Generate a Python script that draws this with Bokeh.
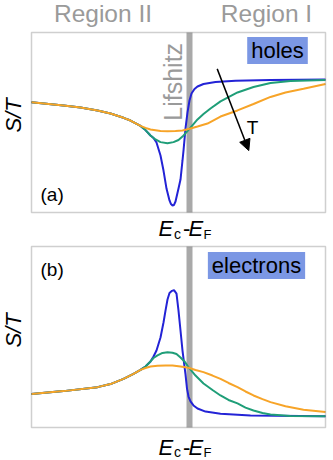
import math
from bokeh.plotting import figure
from bokeh.models import Range1d, Label, Arrow, NormalHead, BoxAnnotation
from bokeh.layouts import column
from bokeh.embed import file_html
from bokeh.resources import INLINE

# ---------------- data (x = E_c - E_F, arbitrary units; Lifshitz point at 0) ----------------
# panel (a): holes
a_orange_x = [-1.58, -1.26, -1.09, -0.92, -0.79, -0.66, -0.59, -0.49, -0.44, -0.39, -0.29, -0.22, -0.14,
              -0.07, 0.01, 0.08, 0.18, 0.31, 0.48, 0.64, 0.81, 0.96, 1.14, 1.36]
a_orange_y = [0.613, 0.594, 0.583, 0.567, 0.550, 0.526, 0.511, 0.481, 0.470, 0.461, 0.453, 0.452, 0.453,
              0.456, 0.467, 0.478, 0.494, 0.533, 0.567, 0.603, 0.642, 0.667, 0.687, 0.714]

a_green_x = [-1.58, -1.26, -1.09, -0.92, -0.79, -0.66, -0.59, -0.49, -0.44, -0.39, -0.34, -0.29, -0.22,
             -0.16, -0.11, -0.07, -0.03, 0.01, 0.08, 0.14, 0.21, 0.31, 0.48, 0.64, 0.81, 1.01, 1.36]
a_green_y = [0.613, 0.594, 0.583, 0.567, 0.550, 0.526, 0.511, 0.481, 0.458, 0.428, 0.406, 0.391, 0.385,
             0.391, 0.403, 0.422, 0.447, 0.472, 0.517, 0.547, 0.578, 0.617, 0.667, 0.697, 0.719, 0.731, 0.736]

a_blue_x = [-1.58, -1.26, -1.09, -0.92, -0.79, -0.66, -0.59, -0.49, -0.44, -0.39, -0.36, -0.33, -0.29,
            -0.26, -0.23, -0.20, -0.185, -0.17, -0.155, -0.14, -0.11, -0.09, -0.07, -0.06, -0.04, -0.02,
            0.00, 0.02, 0.05, 0.08, 0.14, 0.26, 0.46, 0.81, 1.36]
a_blue_y = [0.613, 0.594, 0.583, 0.567, 0.550, 0.526, 0.511, 0.481, 0.458, 0.428, 0.414, 0.389, 0.317,
            0.233, 0.133, 0.067, 0.047, 0.039, 0.042, 0.061, 0.133, 0.183, 0.289, 0.344, 0.467, 0.556,
            0.622, 0.661, 0.686, 0.700, 0.714, 0.725, 0.732, 0.736, 0.739]

# panel (b): electrons
b_orange_x = [-1.58, -1.26, -0.92, -0.79, -0.66, -0.56, -0.49, -0.44, -0.39, -0.32, -0.24, -0.17, -0.09,
              -0.01, 0.06, 0.14, 0.23, 0.31, 0.39, 0.48, 0.56, 0.64, 0.73, 0.81, 0.96, 1.14, 1.36]
b_orange_y = [0.185, 0.201, 0.223, 0.240, 0.269, 0.296, 0.318, 0.329, 0.337, 0.341, 0.343, 0.343, 0.337,
              0.330, 0.318, 0.306, 0.287, 0.269, 0.246, 0.223, 0.199, 0.177, 0.157, 0.140, 0.117, 0.098, 0.085]

b_green_x = [-1.58, -1.26, -0.92, -0.79, -0.66, -0.56, -0.49, -0.44, -0.39, -0.36, -0.32, -0.27, -0.22,
             -0.17, -0.13, -0.09, -0.05, -0.01, 0.06, 0.14, 0.23, 0.31, 0.39, 0.48, 0.56, 0.64, 0.73,
             0.81, 1.01, 1.36]
b_green_y = [0.185, 0.201, 0.223, 0.240, 0.269, 0.296, 0.318, 0.337, 0.365, 0.384, 0.398, 0.412, 0.416,
             0.413, 0.406, 0.387, 0.365, 0.333, 0.287, 0.243, 0.207, 0.177, 0.152, 0.133, 0.110, 0.094, 0.080,
             0.072, 0.064, 0.062]

b_blue_x = [-1.58, -1.26, -0.92, -0.79, -0.66, -0.56, -0.49, -0.44, -0.39, -0.36, -0.33, -0.29, -0.26,
            -0.24, -0.22, -0.20, -0.175, -0.155, -0.13, -0.11, -0.09, -0.07, -0.05, -0.04, -0.025, -0.01,
            0.01, 0.04, 0.08, 0.16, 0.31, 0.61, 1.36]
b_blue_y = [0.185, 0.201, 0.223, 0.240, 0.269, 0.296, 0.318, 0.337, 0.365, 0.392, 0.425, 0.497, 0.580,
            0.646, 0.707, 0.743, 0.755, 0.759, 0.740, 0.646, 0.536, 0.425, 0.337, 0.293, 0.215, 0.171,
            0.144, 0.122, 0.105, 0.088, 0.076, 0.066, 0.062]

region_labels = ["Region II", "Region I"]
panel_tags = ["(a)", "(b)"]
carrier_labels = ["holes", "electrons"]

# ---------------- style ----------------
FONT = "Liberation Sans"
BLUE = "#2323d6"
GREEN = "#1f9e78"
ORANGE = "#f7a428"
LIF_GRAY = "#a9a9a9"
TXT_GRAY = "#9a9a9a"
BOX = "#7b97e4"
X0, X1 = -1.58, 1.36          # panel box in data units
VX0, VX1 = -1.89, 1.44        # visible canvas range


def make_fig(h, ylo, yhi):
    p = figure(width=333, height=h, x_range=Range1d(VX0, VX1), y_range=Range1d(ylo, yhi),
               output_backend="svg", toolbar_location=None, min_border=0)
    p.xaxis.visible = False
    p.yaxis.visible = False
    p.grid.visible = False
    p.outline_line_color = None
    p.background_fill_color = "white"
    p.border_fill_color = "white"
    # Lifshitz band
    p.add_layout(BoxAnnotation(left=-0.03, right=0.03, bottom=0, top=1, fill_color=LIF_GRAY,
                               fill_alpha=1, line_color=None, level="underlay"))
    # panel frame
    p.add_layout(BoxAnnotation(left=X0, right=X1, bottom=0, top=1, fill_alpha=0, fill_color=None,
                               line_color="#606060", line_width=1.5, level="overlay"))
    return p


def lbl(p, x, y, text, size, color="black", align="left", baseline="middle", angle=0, style="normal", **kw):
    p.add_layout(Label(x=x, y=y, text=text, text_font=FONT, text_font_size=f"{size}px",
                       text_color=color, text_align=align, text_baseline=baseline, angle=angle,
                       text_font_style=style, **kw))


def axis_text(p, ym, ys):
    lbl(p, -0.31, ym, "E", 22, style="italic")
    lbl(p, -0.155, ys, "c", 14)
    lbl(p, -0.065, ym, "-", 22)
    lbl(p, -0.01, ym, "E", 22, style="italic")
    lbl(p, 0.14, ys, "F", 13)


# ---------------- panel (a) : image rows 0..244 ----------------
pa = make_fig(244, -0.1778, 1.1778)
pa.line(a_blue_x, a_blue_y, line_color=BLUE, line_width=2)
pa.line(a_green_x, a_green_y, line_color=GREEN, line_width=2)
pa.line(a_orange_x, a_orange_y, line_color=ORANGE, line_width=2)

lbl(pa, -0.865, 1.106, region_labels[0], 24.5, color=TXT_GRAY, align="center")
lbl(pa, 0.77, 1.106, region_labels[1], 24.5, color=TXT_GRAY, align="center")
lbl(pa, -0.17, 0.726, "Lifshitz", 25, color=TXT_GRAY, align="center", angle=math.pi / 2)
lbl(pa, 0.88, 0.9, carrier_labels[0], 22, align="center",
    background_fill_color=BOX, padding=dict(left=4, right=4, top=1, bottom=1))
lbl(pa, -1.49, 0.1, panel_tags[0], 19)
lbl(pa, 0.63, 0.472, "T", 19, align="center")
lbl(pa, -1.76, 0.539, "S/T", 22, align="center", angle=math.pi / 2, style="italic")
pa.add_layout(Arrow(x_start=0.277, y_start=0.798, x_end=0.593, y_end=0.344, line_width=1.5,
                    line_color="black", end=NormalHead(size=11, fill_color="black", line_color="black")))
axis_text(pa, -0.09, -0.122)

# ---------------- panel (b) : image rows 244..460 ----------------
pb = make_fig(216, -0.1823, 1.0110)
pb.line(b_blue_x, b_blue_y, line_color=BLUE, line_width=2)
pb.line(b_green_x, b_green_y, line_color=GREEN, line_width=2)
pb.line(b_orange_x, b_orange_y, line_color=ORANGE, line_width=2)

lbl(pb, 0.67, 0.895, carrier_labels[1], 22, align="center",
    background_fill_color=BOX, padding=dict(left=4, right=4, top=1, bottom=1))
lbl(pb, -1.49, 0.873, panel_tags[1], 19)
lbl(pb, -1.76, 0.536, "S/T", 22, align="center", angle=math.pi / 2, style="italic")
axis_text(pb, -0.112, -0.136)

layout = column(pa, pb, spacing=0)
open("out.html", "w").write(file_html(layout, INLINE))
